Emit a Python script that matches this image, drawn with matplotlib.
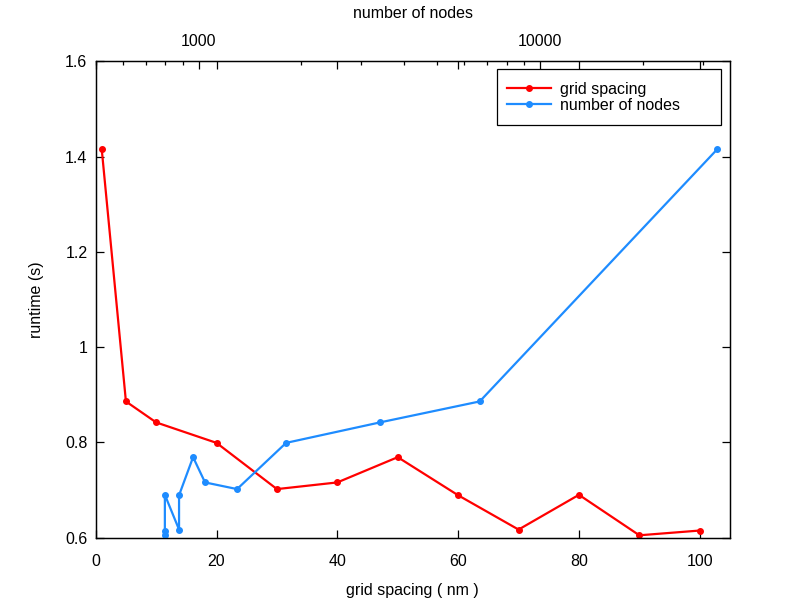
import matplotlib
matplotlib.use("Agg")
import matplotlib.pyplot as plt
from matplotlib.patches import Rectangle
from matplotlib.ticker import FixedLocator, NullFormatter, LogLocator, FormatStrFormatter

plt.rcParams['font.family'] = ['Liberation Sans', 'DejaVu Sans']
plt.rcParams['font.size'] = 11.5

# data
grid_spacing = [1, 5, 10, 20, 30, 40, 50, 60, 70, 80, 90, 100]
runtime = [1.415, 0.886, 0.842, 0.799, 0.702, 0.716, 0.769, 0.689, 0.617, 0.690, 0.605, 0.615]
num_nodes = [33000, 6660, 3400, 1805, 1297, 1045, 964, 877, 877, 797, 797, 797]
x_ticks = [0, 20, 40, 60, 80, 100]
y_ticks = [0.6, 0.8, 1.0, 1.2, 1.4, 1.6]
top_ticks = [1000, 10000]
top_labels = ['1000', '10000']

RED = '#ff0000'
BLUE = '#1e8cff'

fig = plt.figure(figsize=(7.95, 6.07), dpi=100)
ax = fig.add_axes([0.1204, 0.1142, 0.7978, 0.7848])
ax2 = ax.twiny()

l1, = ax.plot(grid_spacing, runtime, color=RED, lw=1.6, marker='o', ms=4, label='grid spacing')
ax2.set_xscale('log')
l2, = ax2.plot(num_nodes, runtime, color=BLUE, lw=1.6, marker='o', ms=4, label='number of nodes')

ax.set_xlim(0, 105)
ax.set_ylim(0.6, 1.6)
ax2.set_xlim(500, 36000)

ax.set_xticks(x_ticks)
ax.set_yticks(y_ticks)
ax.yaxis.set_major_formatter(FormatStrFormatter('%g'))
ax.tick_params(direction='in', length=6, width=0.9, top=True, right=True,
               labeltop=False, labelright=False)
ax.tick_params(axis='x', pad=11.5)
ax.tick_params(axis='y', pad=6)

ax2.xaxis.set_major_locator(FixedLocator(top_ticks))
ax2.set_xticklabels(top_labels)
ax2.xaxis.set_minor_locator(LogLocator(base=10, subs=[2, 3, 4, 5, 6, 7, 8, 9], numticks=20))
ax2.xaxis.set_minor_formatter(NullFormatter())
ax2.tick_params(axis='x', which='major', direction='in', length=6, width=0.9, pad=9)
ax2.tick_params(axis='x', which='minor', direction='in', length=3, width=0.9)

for a in (ax, ax2):
    for s in a.spines.values():
        s.set_linewidth(0.9)
        s.set_color('black')

ax.set_xlabel('grid spacing ( nm )', va='center')
ax.xaxis.set_label_coords(0.5, -0.110)
ax.set_ylabel('runtime (s)', va='center')
ax.yaxis.set_label_coords(-0.094, 0.5)
ax2.set_xlabel('number of nodes', va='center')
ax2.xaxis.set_label_coords(0.5, 1.1014)

# legend box (drawn as a frame) and frameless legend inside it
ax2.add_patch(Rectangle((0.6331, 0.8657), 0.3532, 0.1176, transform=ax2.transAxes,
                        facecolor='white', edgecolor='black', lw=0.9, zorder=4))
leg = ax2.legend([l1, l2], ['grid spacing', 'number of nodes'],
                 loc='upper left', bbox_to_anchor=(0.648, 0.9565),
                 borderaxespad=0, borderpad=0, frameon=False,
                 handlelength=2.75, handletextpad=0.6, labelspacing=0.05)
leg.set_zorder(5)

fig.savefig('out.png', dpi=100)
